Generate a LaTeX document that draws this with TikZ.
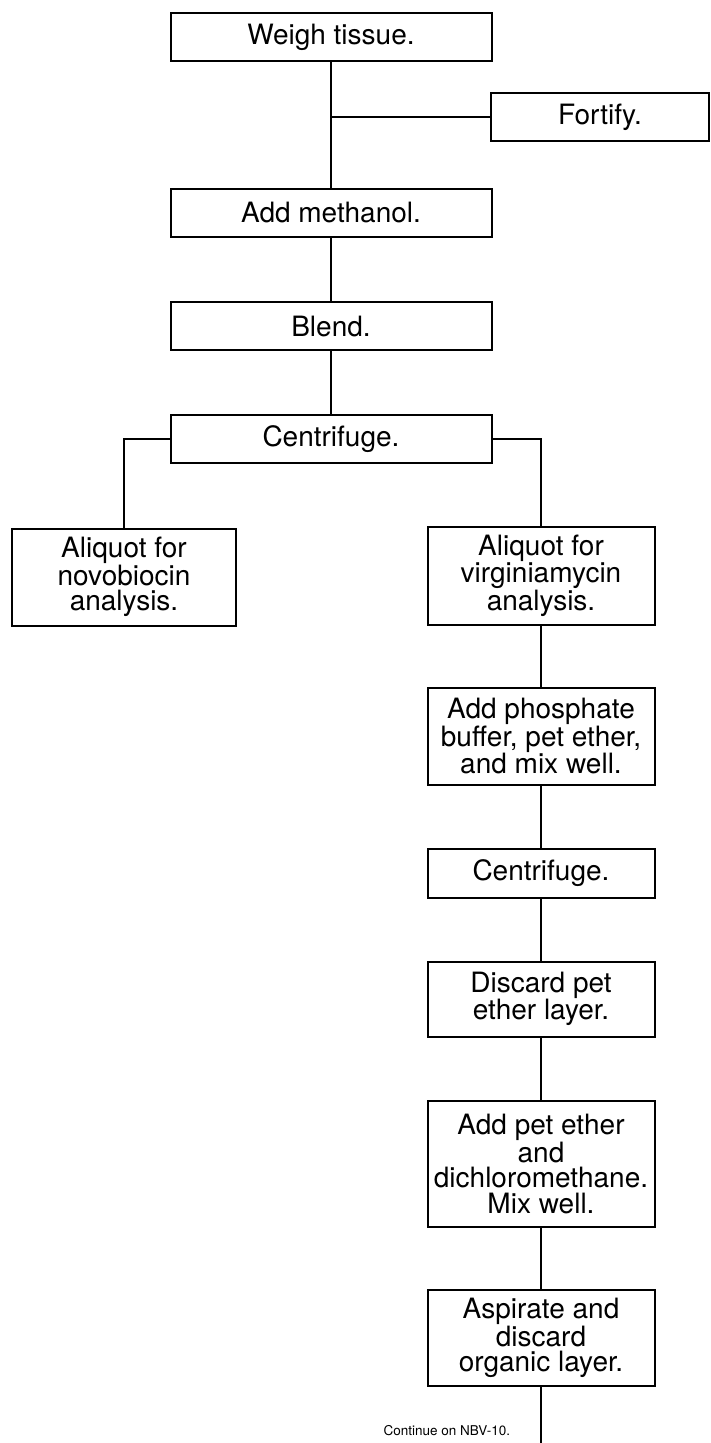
\documentclass[tikz,border=0pt]{standalone}
\usepackage{fontspec}
\setmainfont{TeX Gyre Heros}
\begin{document}
\begin{tikzpicture}[x=1pt, y=-1pt, line width=2pt,
	stepbox/.style={draw, inner sep=0pt, align=center, font=\fontsize{28}{25.5}\selectfont},
	wide/.style={stepbox, minimum width=321pt, minimum height=48pt},
	narrow/.style={stepbox, minimum width=227pt}]

	\useasboundingbox (0,0) rectangle (710,1443);

	\node [wide] (weigh) at (331,37) {Weigh tissue.};
	\node [stepbox, minimum width=218pt, minimum height=48pt] (fortify) at (600,117) {Fortify.};
	\node [wide] (methanol) at (331,213) {Add methanol.};
	\node [wide] (blend) at (331,326) {Blend.};
	\node [wide] (centrifuge) at (331,439) {Centrifuge.};

	\node [stepbox, minimum width=224pt, minimum height=97pt] (novo) at (124,577) {Aliquot for\\novobiocin\\analysis.};
	\node [narrow, minimum height=98pt] (virg) at (541,576) {Aliquot for\\virginiamycin\\analysis.};
	\node [narrow, minimum height=97pt] (phosphate) at (541,736) {Add phosphate\\buffer, pet ether,\\and mix well.};
	\node [narrow, minimum height=49pt] (centrifugeb) at (541,873) {Centrifuge.};
	\node [narrow, minimum height=75pt] (discard) at (541,999) {Discard pet\\ether layer.};
	\node [narrow, minimum height=126pt] (addpet) at (541,1164) {Add pet ether\\and\\dichloromethane.\\Mix well.};
	\node [narrow, minimum height=96pt] (aspirate) at (541,1338) {Aspirate and\\discard\\organic layer.};
	\coordinate (bottom) at (541,1443);
	\node [anchor=east, inner sep=0pt, font=\fontsize{13.5}{15}\selectfont] (cont) at (511,1431) {Continue on NBV-10.};

	\draw (weigh) -- (methanol);
	\draw (weigh.south |- fortify.west) -- (fortify.west);
	\draw (methanol) -- (blend);
	\draw (blend) -- (centrifuge);
	\draw (centrifuge.west) -| (novo.north);
	\draw (centrifuge.east) -| (virg.north);
	\draw (virg) -- (phosphate);
	\draw (phosphate) -- (centrifugeb);
	\draw (centrifugeb) -- (discard);
	\draw (discard) -- (addpet);
	\draw (addpet) -- (aspirate);
	\draw (aspirate) -- (bottom);

\end{tikzpicture}
\end{document}
